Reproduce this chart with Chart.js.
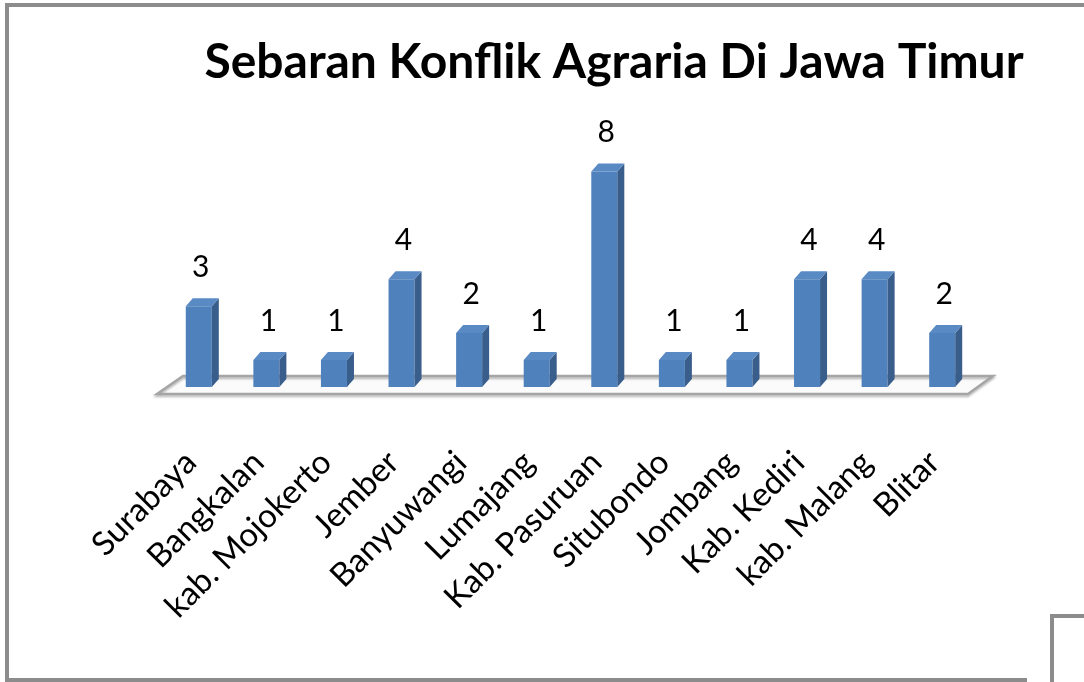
<!DOCTYPE html>
<html>
<head>
<meta charset="utf-8">
<script src="https://cdn.jsdelivr.net/npm/chart.js@4.4.1/dist/chart.umd.min.js"></script>
<style>
  html, body { margin: 0; padding: 0; background: #fff; overflow: hidden; }
  #wrap { position: relative; width: 1084px; height: 682px; }
  .frame { position: absolute; left: 5px; top: 3px; width: 1200px; height: 700px;
           border-top: 4px solid #8c8c8c; border-left: 4px solid #8c8c8c; }
  .bottomLine { position: absolute; left: 5px; top: 678px; width: 1022px; height: 4px; background: #8c8c8c; }
  .sideBox { position: absolute; left: 1050px; top: 614px; width: 100px; height: 100px;
             border-top: 4px solid #8c8c8c; border-left: 4px solid #8c8c8c; background: #fff; }
  canvas { position: absolute; left: 0; top: 0; }
</style>
</head>
<body>
<div id="wrap">
  <div class="frame"></div>
  <div class="bottomLine"></div>
  <div class="sideBox"></div>
  <canvas id="konflik" width="1084" height="682"></canvas>
</div>
<script>
const judul = 'Sebaran Konflik Agraria Di Jawa Timur';
const daerah = ['Surabaya', 'Bangkalan', 'kab. Mojokerto', 'Jember', 'Banyuwangi', 'Lumajang',
  'Kab. Pasuruan', 'Situbondo', 'Jombang', 'Kab. Kediri', 'kab. Malang', 'Blitar'];
const jumlah = [3, 1, 1, 4, 2, 1, 8, 1, 1, 4, 4, 2];

const biru = '#4f81bd';
const DEPTH_X = 7, DEPTH_Y = 8;

// lantai 3D + sisi/atap batang + angka di atasnya
const efek3d = {
  id: 'efek3d',
  beforeDatasetsDraw(chart) {
    const {ctx, chartArea: a} = chart;
    const base = chart.scales.y.getPixelForValue(0);
    ctx.save();
    ctx.beginPath();
    ctx.moveTo(a.left - 8, base + 7);
    ctx.lineTo(a.right - 8, base + 7);
    ctx.lineTo(a.right + 17, base - 11);
    ctx.lineTo(a.left + 18, base - 11);
    ctx.closePath();
    ctx.fillStyle = '#fbfbfb';
    ctx.fill();
    ctx.shadowColor = 'rgba(0,0,0,0.25)';
    ctx.shadowOffsetY = 2;
    ctx.shadowBlur = 2;
    ctx.strokeStyle = '#a5a5a5';
    ctx.lineWidth = 2.5;
    ctx.stroke();
    ctx.restore();
  },
  afterDatasetsDraw(chart) {
    const {ctx} = chart;
    const meta = chart.getDatasetMeta(0);
    ctx.save();
    meta.data.forEach((bar, i) => {
      const l = bar.x - bar.width / 2, r = bar.x + bar.width / 2;
      const t = bar.y, b = bar.base;
      // sisi kanan
      ctx.beginPath();
      ctx.moveTo(r, t);
      ctx.lineTo(r + DEPTH_X, t - DEPTH_Y);
      ctx.lineTo(r + DEPTH_X, b - DEPTH_Y);
      ctx.lineTo(r, b);
      ctx.closePath();
      ctx.fillStyle = '#395e8c';
      ctx.fill();
      // atap
      ctx.beginPath();
      ctx.moveTo(l, t);
      ctx.lineTo(l + DEPTH_X, t - DEPTH_Y);
      ctx.lineTo(r + DEPTH_X, t - DEPTH_Y);
      ctx.lineTo(r, t);
      ctx.closePath();
      ctx.fillStyle = '#5a8ac4';
      ctx.fill();
      // angka
      ctx.fillStyle = '#000';
      ctx.font = '30px Lato';
      ctx.textAlign = 'center';
      ctx.textBaseline = 'middle';
      ctx.fillText(jumlah[i], bar.x + 2, t - 39);
    });
    ctx.restore();
  }
};

new Chart(document.getElementById('konflik'), {
  type: 'bar',
  data: {
    labels: daerah,
    datasets: [{
      data: jumlah,
      backgroundColor: biru,
      borderWidth: 0,
      barPercentage: 0.385,
      categoryPercentage: 1
    }]
  },
  options: {
    responsive: false,
    animation: false,
    devicePixelRatio: 1,
    layout: { padding: { left: 165, right: 21, top: 0, bottom: 0 } },
    plugins: {
      legend: { display: false },
      tooltip: { enabled: false },
      title: {
        display: true,
        text: judul,
        color: '#000',
        font: { family: 'Lato', size: 48, weight: 'bold', lineHeight: 1.2 },
        padding: { top: 34, bottom: 26 }
      }
    },
    scales: {
      x: {
        grid: { display: false, drawTicks: false },
        border: { display: false },
        ticks: {
          color: '#000',
          font: { family: 'Lato', size: 33 },
          autoSkip: false,
          minRotation: 45,
          maxRotation: 45,
          padding: 56,
          labelOffset: -8
        },
        afterFit(s) { s.height = 295; }
      },
      y: {
        position: 'right',
        min: 0,
        max: 10,
        grid: { display: false, drawTicks: false },
        border: { display: false },
        ticks: { display: false },
        afterFit(s) { s.width = 87; }
      }
    }
  },
  plugins: [efek3d]
});
</script>
</body>
</html>
